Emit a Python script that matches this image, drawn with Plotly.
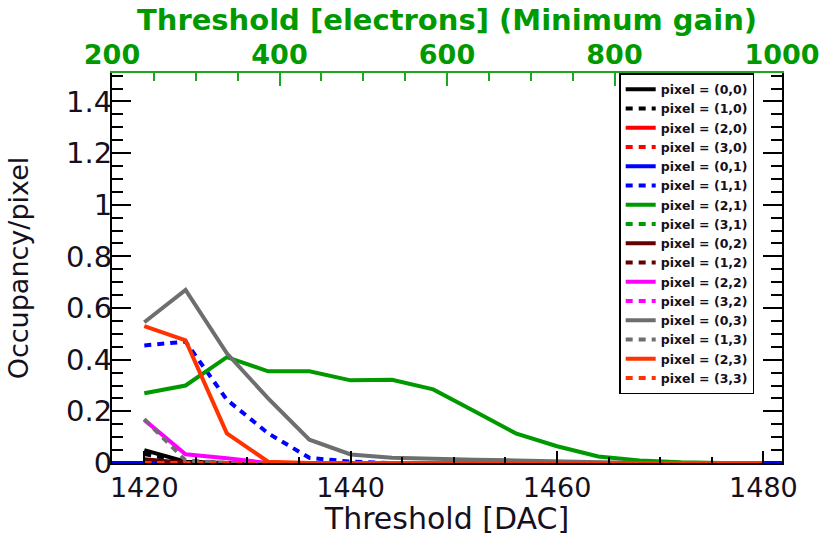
import plotly.graph_objects as go

# Threshold scan points (DAC units)
dac = [1420, 1424, 1428, 1432, 1436, 1440, 1444, 1448,
       1452, 1456, 1460, 1464, 1468, 1472, 1476, 1480]
# Pixel (0,1) was scanned over a slightly wider span
dac_wide = [1412, 1416] + dac + [1484, 1488]

# Occupancy per pixel for each scanned pixel
occ_0_0 = [0.050, 0.005, 0, 0, 0, 0, 0, 0, 0, 0, 0, 0, 0, 0, 0, 0]
occ_1_0 = [0.035, 0.004, 0, 0, 0, 0, 0, 0, 0, 0, 0, 0, 0, 0, 0, 0]
occ_2_0 = [0.010, 0, 0, 0, 0, 0, 0, 0, 0, 0, 0, 0, 0, 0, 0, 0]
occ_3_0 = [0.005, 0, 0, 0, 0, 0, 0, 0, 0, 0, 0, 0, 0, 0, 0, 0]
occ_0_1 = [0] * len(dac_wide)
occ_1_1 = [0.455, 0.470, 0.245, 0.115, 0.020, 0.005, 0, 0, 0, 0, 0, 0, 0, 0, 0, 0]
occ_2_1 = [0.270, 0.300, 0.410, 0.355, 0.355, 0.320, 0.322, 0.285,
           0.200, 0.115, 0.065, 0.025, 0.010, 0.003, 0, 0]
occ_3_1 = [0] * len(dac)
occ_0_2 = [0.015, 0, 0, 0, 0, 0, 0, 0, 0, 0, 0, 0, 0, 0, 0, 0]
occ_1_2 = [0.010, 0, 0, 0, 0, 0, 0, 0, 0, 0, 0, 0, 0, 0, 0, 0]
occ_2_2 = [0.167, 0.034, 0.018, 0, 0, 0, 0, 0, 0, 0, 0, 0, 0, 0, 0, 0]
occ_3_2 = [0] * len(dac)
occ_0_3 = [0.545, 0.670, 0.425, 0.250, 0.090, 0.033, 0.020, 0.015,
           0.013, 0.010, 0.006, 0.003, 0, 0, 0, 0]
occ_1_3 = [0.170, 0.010, 0, 0, 0, 0, 0, 0, 0, 0, 0, 0, 0, 0, 0, 0]
occ_2_3 = [0.530, 0.475, 0.115, 0.005, 0, 0, 0, 0, 0, 0, 0, 0, 0, 0, 0, 0]
occ_3_3 = [0] * len(dac)

pixels = ["(0,0)", "(1,0)", "(2,0)", "(3,0)",
          "(0,1)", "(1,1)", "(2,1)", "(3,1)",
          "(0,2)", "(1,2)", "(2,2)", "(3,2)",
          "(0,3)", "(1,3)", "(2,3)", "(3,3)"]
series = [occ_0_0, occ_1_0, occ_2_0, occ_3_0,
          occ_0_1, occ_1_1, occ_2_1, occ_3_1,
          occ_0_2, occ_1_2, occ_2_2, occ_3_2,
          occ_0_3, occ_1_3, occ_2_3, occ_3_3]
xs = [dac] * 4 + [dac_wide] + [dac] * 11
colors = ["#000000", "#000000", "#ff0000", "#ff0000",
          "#0000ff", "#0000ff", "#009900", "#009900",
          "#660000", "#660000", "#ff00ff", "#ff00ff",
          "#6e6e6e", "#6e6e6e", "#ff3300", "#ff3300"]

# Secondary (top) axis: threshold in electrons
electron_ticks = [200, 400, 600, 800, 1000]
electron_range = [200, 1000]

FONT = "DejaVu Sans"
TXT = "#151020"
GREEN = "#1fa51f"

fig = go.Figure()
for i, (name, y, x, c) in enumerate(zip(pixels, series, xs, colors)):
    dashed = i % 2 == 1
    fig.add_trace(go.Scatter(
        x=x, y=y, mode="lines", name=f"pixel = {name}",
        line=dict(color=c, width=4, dash="7px,6px" if dashed else "solid"),
    ))

# Empty trace that anchors the top electron axis
fig.add_trace(go.Scatter(x=electron_range, y=[None, None], xaxis="x2",
                         mode="lines", showlegend=False, hoverinfo="skip"))

fig.update_layout(
    width=832, height=536,
    margin=dict(l=112, r=36, t=73, b=64),
    paper_bgcolor="white", plot_bgcolor="white",
    font=dict(family=FONT, color=TXT),
    showlegend=True,
    legend=dict(
        x=0.757, y=1.0, xanchor="left", yanchor="top",
        bgcolor="white", bordercolor="#000000", borderwidth=1.5,
        font=dict(family=FONT, size=12.5, color=TXT, weight="bold"),
        tracegroupgap=0, maxheight=500,
    ),
    xaxis=dict(
        range=[1416.87, 1481.8], tickvals=[1420, 1440, 1460, 1480],
        ticks="inside", ticklen=12, tickwidth=2, tickcolor="#000000",
        minor=dict(dtick=5, tick0=1420, ticks="inside", ticklen=6,
                   tickwidth=2, tickcolor="#000000"),
        showline=True, linecolor="#000000", linewidth=2,
        showgrid=False, zeroline=False,
        tickfont=dict(size=27, color=TXT),
        title=dict(text="Threshold [DAC]", font=dict(size=30, color=TXT),
                   standoff=0),
    ),
    xaxis2=dict(
        overlaying="x", side="top", range=electron_range,
        tickvals=electron_ticks,
        ticks="inside", ticklen=13, tickwidth=2, tickcolor=GREEN,
        minor=dict(dtick=50, tick0=200, ticks="inside", ticklen=8,
                   tickwidth=2, tickcolor=GREEN),
        showline=True, linecolor=GREEN, linewidth=2,
        showgrid=False, zeroline=False,
        tickfont=dict(size=27, color="#009a00", weight="bold"),
        ticklabelstandoff=-4, ticklabeloverflow="allow",
        title=dict(text="Threshold [electrons] (Minimum gain)",
                   font=dict(size=29, color="#009a00", weight="bold"),
                   standoff=0),
    ),
    yaxis=dict(
        range=[0, 1.51], dtick=0.2, tick0=0,
        ticks="inside", ticklen=19, tickwidth=2, tickcolor="#000000",
        minor=dict(dtick=0.05, tick0=0, ticks="inside", ticklen=11,
                   tickwidth=2, tickcolor="#000000"),
        showline=True, linecolor="#000000", linewidth=2, mirror="ticks",
        showgrid=False, zeroline=False,
        tickfont=dict(size=29, color=TXT),
        ticklabelstandoff=-8,
        title=dict(text="Occupancy/pixel", font=dict(size=27, color=TXT),
                   standoff=30),
    ),
)

fig.write_html("out.html")
